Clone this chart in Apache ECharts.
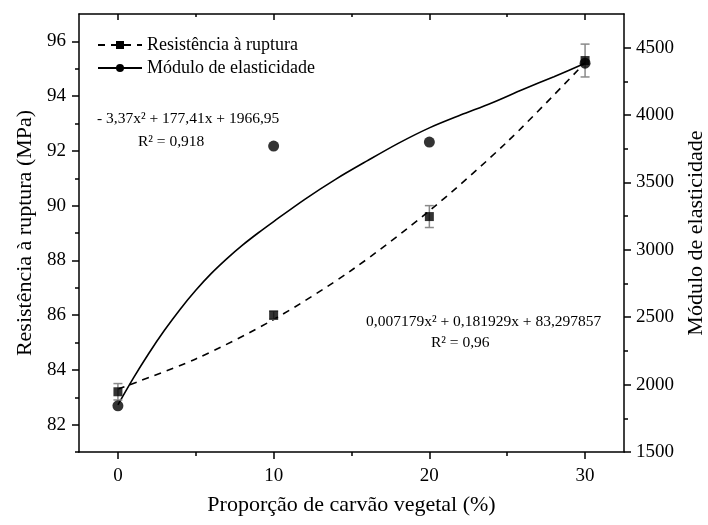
<!DOCTYPE html>
<html>
<head>
<meta charset="utf-8">
<script src="https://cdn.jsdelivr.net/npm/echarts@6/dist/echarts.min.js"></script>
<style>
  html, body { margin: 0; padding: 0; background: #fff; }
  #chart { width: 708px; height: 525px; }
</style>
</head>
<body>
<div id="chart"></div>
<script>
// dados
const proporcao = [0, 10, 20, 30];
const resistencia = [83.2, 86.0, 89.6, 95.3];
const resistenciaErro = [0.3, 0.15, 0.4, 0.6];
const modulo = [1843, 3770, 3800, 4385];

// curvas de ajuste
const ajusteResX = [0, 5, 10, 15, 20, 25, 30];
const ajusteResY = [83.3, 84.4, 85.84, 87.64, 89.81, 92.33, 95.22];
const ajusteModX = [0, 1, 2, 3, 4, 5, 6, 7, 8, 9, 10, 12, 14, 16, 18, 20, 22, 24, 26, 28, 30];
const ajusteModY = [1850, 2050, 2235, 2405, 2560, 2700, 2825, 2935, 3035, 3125, 3210, 3375, 3525, 3660, 3790, 3905, 4000, 4090, 4190, 4285, 4384];

// marcações dos eixos
const xTicks = [0, 10, 20, 30];
const xMinor = [5, 15, 25];
const yLeftTicks = [82, 84, 86, 88, 90, 92, 94, 96];
const yLeftMinor = [81, 83, 85, 87, 89, 91, 93, 95];
const yRightTicks = [1500, 2000, 2500, 3000, 3500, 4000, 4500];
const yRightMinor = [1750, 2250, 2750, 3250, 3750, 4250];

const fonte = '"Liberation Serif", "Times New Roman", serif';
const linha = { show: true, onZero: false, lineStyle: { color: '#000', width: 1.5 } };
const tick = { color: '#000', width: 1.5 };

const chart = echarts.init(document.getElementById('chart'));

const baseX = { type: 'value', min: -2.5, max: 32.5, splitLine: { show: false } };
const baseYL = { type: 'value', min: 81, max: 97, position: 'left', splitLine: { show: false } };
const baseYR = { type: 'value', min: 1500, max: 4750, position: 'right', splitLine: { show: false } };

const option = {
    animation: false,
    backgroundColor: '#fff',
    grid: { left: 79, right: 84, top: 14, bottom: 73, outerBoundsMode: 'none' },
    legend: {
        data: ['Resistência à ruptura', 'Módulo de elasticidade'],
        orient: 'vertical',
        left: 92,
        top: 31,
        itemWidth: 44,
        itemHeight: 10,
        itemGap: 5,
        textStyle: { fontFamily: fonte, fontSize: 18, color: '#000' }
    },
    xAxis: [
        Object.assign({}, baseX, {
            position: 'bottom',
            name: 'Proporção de carvão vegetal (%)',
            nameLocation: 'middle',
            nameGap: 42,
            nameTextStyle: { fontFamily: fonte, fontSize: 22, color: '#000' },
            axisLine: linha,
            axisTick: { customValues: xTicks, length: 7, lineStyle: tick },
            axisLabel: { customValues: xTicks, margin: 15, fontFamily: fonte, fontSize: 19, color: '#000' }
        }),
        Object.assign({}, baseX, {
            position: 'bottom',
            axisLine: { show: false, onZero: false },
            axisTick: { customValues: xMinor, length: 4, lineStyle: tick },
            axisLabel: { show: false }
        }),
        Object.assign({}, baseX, {
            position: 'top',
            axisLine: linha,
            axisTick: { inside: true, customValues: xTicks, length: 6, lineStyle: tick },
            axisLabel: { show: false }
        }),
        Object.assign({}, baseX, {
            position: 'top',
            axisLine: { show: false, onZero: false },
            axisTick: { inside: true, customValues: xMinor, length: 3, lineStyle: tick },
            axisLabel: { show: false }
        })
    ],
    yAxis: [
        Object.assign({}, baseYL, {
            name: 'Resistência à ruptura (MPa)',
            nameLocation: 'middle',
            nameGap: 42,
            nameTextStyle: { fontFamily: fonte, fontSize: 22, color: '#000' },
            axisLine: linha,
            axisTick: { customValues: yLeftTicks, length: 7, lineStyle: tick },
            axisLabel: { customValues: yLeftTicks, margin: 13, fontFamily: fonte, fontSize: 19, color: '#000' }
        }),
        Object.assign({}, baseYL, {
            axisLine: { show: false, onZero: false },
            axisTick: { customValues: yLeftMinor, length: 4, lineStyle: tick },
            axisLabel: { show: false }
        }),
        Object.assign({}, baseYR, {
            name: 'Módulo de elasticidade',
            nameLocation: 'middle',
            nameGap: 60,
            nameRotate: 90,
            nameTextStyle: { fontFamily: fonte, fontSize: 22, color: '#000' },
            axisLine: linha,
            axisTick: { customValues: yRightTicks, length: 7, lineStyle: tick },
            axisLabel: {
                customValues: yRightTicks, margin: 12, fontFamily: fonte, fontSize: 19, color: '#000',
                formatter: v => String(v)
            }
        }),
        Object.assign({}, baseYR, {
            axisLine: { show: false, onZero: false },
            axisTick: { customValues: yRightMinor, length: 4, lineStyle: tick },
            axisLabel: { show: false }
        })
    ],
    series: [
        {
            name: 'Resistência à ruptura',
            type: 'line',
            yAxisIndex: 0,
            data: ajusteResX.map((x, i) => [x, ajusteResY[i]]),
            smooth: 0.3,
            symbol: 'rect',
            showSymbol: false,
            itemStyle: { color: '#000' },
            lineStyle: { color: '#000', width: 1.6, type: [7, 6] },
            z: 2
        },
        {
            name: 'Módulo de elasticidade',
            type: 'line',
            yAxisIndex: 2,
            data: ajusteModX.map((x, i) => [x, ajusteModY[i]]),
            smooth: 0.3,
            symbol: 'circle',
            showSymbol: false,
            itemStyle: { color: '#000' },
            lineStyle: { color: '#000', width: 1.6 },
            z: 2
        },
        {
            name: 'erro',
            type: 'custom',
            yAxisIndex: 0,
            data: proporcao.map((x, i) => [x, resistencia[i], resistenciaErro[i]]),
            renderItem: function (params, api) {
                const x = api.value(0), y = api.value(1), e = api.value(2);
                const top = api.coord([x, y + e]);
                const bot = api.coord([x, y - e]);
                const w = 4.5;
                const st = { stroke: '#8a8a8a', lineWidth: 1.5 };
                return {
                    type: 'group',
                    children: [
                        { type: 'line', shape: { x1: top[0], y1: top[1], x2: bot[0], y2: bot[1] }, style: st },
                        { type: 'line', shape: { x1: top[0] - w, y1: top[1], x2: top[0] + w, y2: top[1] }, style: st },
                        { type: 'line', shape: { x1: bot[0] - w, y1: bot[1], x2: bot[0] + w, y2: bot[1] }, style: st }
                    ]
                };
            },
            z: 3
        },
        {
            name: 'res-pontos',
            type: 'scatter',
            yAxisIndex: 0,
            data: proporcao.map((x, i) => [x, resistencia[i]]),
            symbol: 'rect',
            symbolSize: 9,
            itemStyle: { color: '#000' },
            z: 4
        },
        {
            name: 'mod-pontos',
            type: 'scatter',
            yAxisIndex: 2,
            data: proporcao.map((x, i) => [x, modulo[i]]),
            symbol: 'circle',
            symbolSize: 11,
            itemStyle: { color: '#000' },
            z: 4
        }
    ],
    graphic: [
        { type: 'text', left: 97, top: 111, style: { text: '- 3,37x² + 177,41x + 1966,95', fontFamily: fonte, fontSize: 15.5, fill: '#000' } },
        { type: 'text', left: 138, top: 134, style: { text: 'R² = 0,918', fontFamily: fonte, fontSize: 15.5, fill: '#000' } },
        { type: 'text', left: 366, top: 314, style: { text: '0,007179x² + 0,181929x + 83,297857', fontFamily: fonte, fontSize: 15.5, fill: '#000' } },
        { type: 'text', left: 431, top: 335, style: { text: 'R² = 0,96', fontFamily: fonte, fontSize: 15.5, fill: '#000' } }
    ]
};

chart.setOption(option);
</script>
</body>
</html>
